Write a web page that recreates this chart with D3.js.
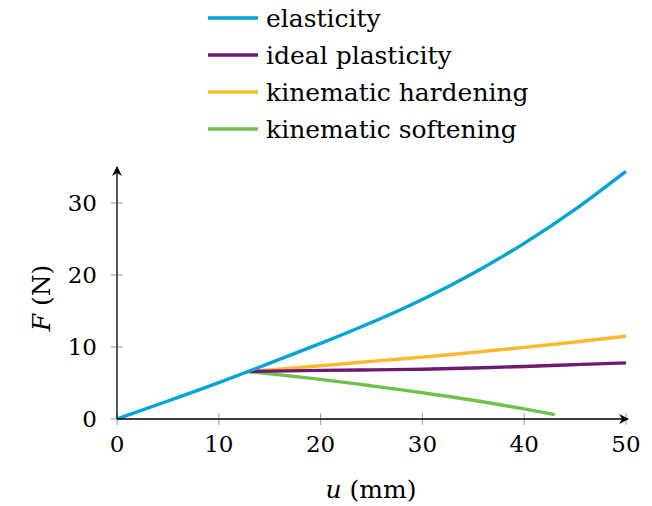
<!DOCTYPE html>
<html>
<head>
<meta charset="utf-8">
<script src="https://cdn.jsdelivr.net/npm/d3@7"></script>
<style>
  body { margin: 0; background: #fff; }
</style>
</head>
<body>
<svg width="652" height="506"></svg>
<script>
// values
const seriesNames = ["elasticity", "ideal plasticity", "kinematic hardening", "kinematic softening"];
const seriesColors = ["#00a5d5", "#6e1a73", "#fdb82b", "#6cc24a"];

const elasticityU = [0, 5, 10, 15, 20, 25, 30, 35, 40, 45, 50];
const elasticityF = [0, 2.5, 5.05, 7.75, 10.5, 13.4, 16.6, 20.25, 24.4, 29.1, 34.4];

const plasticityU = [13, 20, 25, 30, 35, 40, 45, 50];
const plasticityF = [6.6, 6.75, 6.82, 6.92, 7.08, 7.3, 7.55, 7.8];

const hardeningU = [13, 20, 25, 30, 35, 40, 45, 50];
const hardeningF = [6.6, 7.4, 8.0, 8.6, 9.25, 9.95, 10.7, 11.5];

const softeningU = [13, 20, 25, 30, 35, 40, 43];
const softeningF = [6.6, 5.5, 4.6, 3.65, 2.6, 1.4, 0.6];

const xTicks = [0, 10, 20, 30, 40, 50];
const yTicks = [0, 10, 20, 30];

const svg = d3.select("svg");
const font = "DejaVu Serif";

const x = d3.scaleLinear().domain([0, 50]).range([117, 626]);
const y = d3.scaleLinear().domain([0, 30]).range([419, 203]);

// grey ticks crossing the axes
svg.append("g").selectAll("line")
  .data(xTicks)
  .join("line")
  .attr("x1", d => x(d)).attr("x2", d => x(d))
  .attr("y1", y(0) - 6).attr("y2", y(0) + 6)
  .attr("stroke", "#aaa").attr("stroke-width", 1.2);

svg.append("g").selectAll("line")
  .data(yTicks)
  .join("line")
  .attr("x1", x(0) - 6).attr("x2", x(0) + 6)
  .attr("y1", d => y(d)).attr("y2", d => y(d))
  .attr("stroke", "#aaa").attr("stroke-width", 1.2);

// tick labels
svg.append("g").selectAll("text")
  .data(xTicks)
  .join("text")
  .attr("x", d => x(d))
  .attr("y", 452)
  .attr("text-anchor", "middle")
  .attr("font-family", font)
  .attr("font-size", 23)
  .text(d => d);

svg.append("g").selectAll("text")
  .data(yTicks)
  .join("text")
  .attr("x", 97)
  .attr("y", d => y(d) + 8)
  .attr("text-anchor", "end")
  .attr("font-family", font)
  .attr("font-size", 23)
  .text(d => d);

// series lines
const series = [
  [elasticityU, elasticityF],
  [plasticityU, plasticityF],
  [hardeningU, hardeningF],
  [softeningU, softeningF]
];

const line = d3.line()
  .x(d => x(d[0]))
  .y(d => y(d[1]))
  .curve(d3.curveNatural);

// elasticity drawn last so it sits on top
[3, 2, 1, 0].forEach(i => {
  const pts = series[i][0].map((u, j) => [u, series[i][1][j]]);
  svg.append("path")
    .datum(pts)
    .attr("fill", "none")
    .attr("stroke", seriesColors[i])
    .attr("stroke-width", 3.4)
    .attr("d", line);
});

// axes with arrow heads
const defs = svg.append("defs");
defs.append("marker")
  .attr("id", "arrow")
  .attr("viewBox", "0 0 10 10")
  .attr("refX", 9).attr("refY", 5)
  .attr("markerWidth", 10).attr("markerHeight", 10)
  .attr("markerUnits", "userSpaceOnUse")
  .attr("orient", "auto")
  .append("path")
  .attr("d", "M0,0 L10,5 L0,10 L3,5 Z")
  .attr("fill", "#000");

svg.append("line")
  .attr("x1", x(0)).attr("x2", 628)
  .attr("y1", y(0)).attr("y2", y(0))
  .attr("stroke", "#000").attr("stroke-width", 1.3)
  .attr("marker-end", "url(#arrow)");

svg.append("line")
  .attr("x1", x(0)).attr("x2", x(0))
  .attr("y1", y(0)).attr("y2", 167)
  .attr("stroke", "#000").attr("stroke-width", 1.3)
  .attr("marker-end", "url(#arrow)");

// axis labels
const xl = svg.append("text")
  .attr("x", 371).attr("y", 498)
  .attr("text-anchor", "middle")
  .attr("font-family", font)
  .attr("font-size", 25);
xl.append("tspan").attr("font-style", "italic").text("u");
xl.append("tspan").text(" (mm)");

const yl = svg.append("text")
  .attr("transform", "translate(50,298) rotate(-90)")
  .attr("text-anchor", "middle")
  .attr("font-family", font)
  .attr("font-size", 25);
yl.append("tspan").attr("font-style", "italic").text("F");
yl.append("tspan").text(" (N)");

// legend
const legend = svg.append("g").selectAll("g")
  .data(seriesNames)
  .join("g")
  .attr("transform", (d, i) => `translate(208,${18 + i * 37})`);

legend.append("line")
  .attr("x1", 0).attr("x2", 50)
  .attr("stroke", (d, i) => seriesColors[i])
  .attr("stroke-width", 3.4);

legend.append("text")
  .attr("x", 58).attr("y", 8.5)
  .attr("font-family", font)
  .attr("font-size", 25)
  .text(d => d);
</script>
</body>
</html>
